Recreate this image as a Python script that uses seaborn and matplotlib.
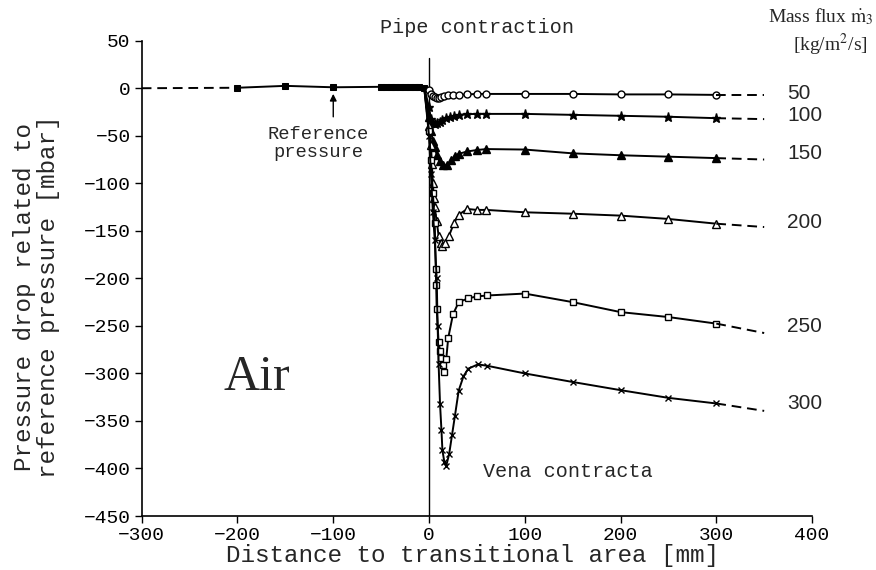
import matplotlib
matplotlib.use("Agg")
import matplotlib.pyplot as plt
import seaborn as sns
import pandas as pd

# ---------------- data ----------------
flux_labels = ["50", "100", "150", "200", "250", "300"]

# upstream measuring points (shared, filled squares)
x_up = [-200, -150, -100, -50, -45, -40, -35, -30, -25, -20, -15, -10, -5]
p_up = [0.5, 2.5, 1.0, 1.5, 1.5, 1.5, 1.5, 1.5, 1.5, 1.5, 1.0, 1.0, 0.5]
x_lead = [-300, -200]
p_lead = [0.0, 0.5]

x_50 = [0, 2, 4, 6, 8, 10, 13, 16, 20, 25, 31, 40, 50, 60, 100, 150, 200, 250, 300]
p_50 = [-2, -6, -8, -9, -10, -10, -9, -8, -7.5, -7, -7, -6.5, -6, -6, -6, -6, -6.5, -6.5, -7]

x_100 = [0, 2, 4, 6, 8, 11, 14, 18, 22, 26, 31, 40, 50, 60, 100, 150, 200, 250, 300]
p_100 = [-20, -32, -37, -38, -37, -35, -33, -31, -30, -29, -28, -27.3, -27, -27, -27, -28, -29, -30, -31.5]

x_150 = [0, 2, 4, 6, 8, 11, 15, 19, 23, 27, 31, 40, 50, 60, 100, 150, 200, 250, 300]
p_150 = [-30, -45, -55, -62, -70, -77, -81, -81, -76, -71, -69, -66.5, -65, -64, -64.5, -68.5, -70.5, -72, -73.5]

x_200 = [0, 2, 3, 4, 5, 6, 8, 10, 12, 14, 17, 21, 26, 31, 40, 50, 60, 100, 150, 200, 250, 300]
p_200 = [-40, -60, -80, -100, -115, -125, -140, -155, -163, -166, -163, -155, -142, -133, -127, -128, -128,
         -130.5, -132, -134, -137.5, -142.5]

x_250 = [0, 2, 4, 6, 7, 7.5, 8, 10, 11.5, 13, 15, 16, 18, 20, 25, 31, 41, 50, 61, 100, 150, 200, 250, 300]
p_250 = [-45, -75, -110, -142, -190, -207, -232, -267, -276, -284, -291, -298, -285, -263, -238, -225, -221,
         -219, -218, -216, -225, -235.5, -240.7, -247.6]

x_300 = [0, 2, 4, 6, 8, 9, 10, 11.5, 13, 14, 16, 18, 21, 24, 27, 31, 36, 41, 51, 61, 100, 150, 200, 250, 300]
p_300 = [-50, -90, -130, -160, -200, -250, -290, -332, -360, -381, -393, -397, -385, -365, -345, -318, -303,
         -295, -290.5, -292, -300, -309, -317.6, -325.7, -331.6]

x_tail = [300, 350]
p_end = [-7, -32.5, -75, -146, -257.5, -339.4]

xs_all = [x_50, x_100, x_150, x_200, x_250, x_300]
ps_all = [p_50, p_100, p_150, p_200, p_250, p_300]

# ---------------- styling ----------------
sns.set_theme(style="ticks")
plt.rcParams['font.family'] = ['Liberation Mono', 'DejaVu Sans']
plt.rcParams['mathtext.fontset'] = 'stix'

markers = ['o', '*', '^', '^', 's', 'x']
facecols = ['white', 'black', 'black', 'white', 'white', 'black']
msizes = [5, 6.5, 5.5, 5.5, 5, 5]
label_y = [-6, -29, -69, -141, -251, -332]

fig = plt.figure(figsize=(8.76, 5.70), dpi=100)
ax = fig.add_axes([0.1618, 0.0947, 0.927 - 0.1618, 0.9286 - 0.0947])

LW = 1.4
dash = (0, (5, 3))

# leading dashed line and upstream squares
sns.lineplot(x=x_lead, y=p_lead, sort=False, estimator=None, color='black', lw=LW,
             linestyle=dash, ax=ax)
sns.lineplot(x=x_up, y=p_up, sort=False, estimator=None, color='black', lw=LW,
             marker='s', markersize=5, markerfacecolor='black', markeredgecolor='black', ax=ax)

for i, (xs, ps) in enumerate(zip(xs_all, ps_all)):
    df = pd.DataFrame({'x': [x_up[-1]] + xs, 'p': [p_up[-1]] + ps})
    sns.lineplot(data=df, x='x', y='p', sort=False, estimator=None, color='black', lw=LW,
                 marker=markers[i], markersize=msizes[i], markerfacecolor=facecols[i],
                 markeredgecolor='black', markeredgewidth=1.0,
                 markevery=list(range(1, len(df))), ax=ax)
    sns.lineplot(x=x_tail, y=[ps[-1], p_end[i]], sort=False, estimator=None, color='black',
                 lw=LW, linestyle=dash, ax=ax)
    ax.text(374, label_y[i], flux_labels[i], fontsize=15, family=['Liberation Sans'],
            va='center', ha='left', clip_on=False)

# pipe contraction reference line
LINE_TOP = 32
ax.axvline(0, ymin=0, ymax=(LINE_TOP + 450) / 500, color='black', lw=1.0, zorder=1)

ax.set_xlim(-300, 400)
ax.set_ylim(-450, 50)
ax.set_xticks(range(-300, 401, 100))
ax.set_yticks(range(-450, 51, 50))
ax.tick_params(direction='out', length=5, width=1, labelsize=14, colors='black', pad=3)
for s in ['top', 'right']:
    ax.spines[s].set_visible(False)
for s in ['left', 'bottom']:
    ax.spines[s].set_linewidth(1.2)
    ax.spines[s].set_color('black')
ax.set_xlabel('')
ax.set_ylabel('')

# texts
ax.annotate('', xy=(-100, -3), xytext=(-100, -33),
            arrowprops=dict(arrowstyle='-|>', color='black', lw=1.0, mutation_scale=10))
ax.text(-116, -58, "Reference\npressure", ha='center', va='center', fontsize=13.5, linespacing=1.05)
ax.text(56, -403, "Vena contracta", ha='left', va='center', fontsize=14.5)
ax.text(-180, -305, "Air", ha='center', va='center', fontsize=36, family=['Liberation Serif'])

fig.text(0.434, 0.951, "Pipe contraction", ha='left', va='center', fontsize=14.5)
fig.text(0.997, 0.970, r"Mass flux $\dot{\mathrm{m}}_3$", ha='right', va='center', fontsize=14,
         family=['Liberation Serif'])
fig.text(0.99, 0.922, r"[kg/m$^2$/s]", ha='right', va='center', fontsize=14,
         family=['Liberation Serif'])

fig.text(0.539, 0.026, "Distance to transitional area [mm]", ha='center', va='center', fontsize=17.5)
fig.text(0.042, 0.479, "Pressure drop related to\nreference pressure [mbar]", ha='center', va='center',
         rotation=90, fontsize=17.5, linespacing=1.05, multialignment='center')

fig.savefig("out.png", dpi=100)
